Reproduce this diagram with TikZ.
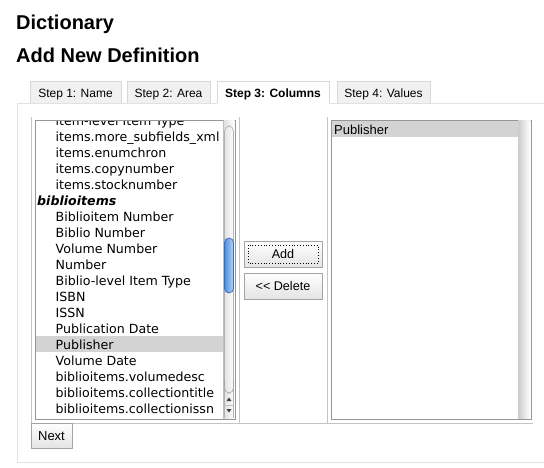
\documentclass[tikz,border=0pt]{standalone}
\usepackage{fontspec}
\setmainfont{Liberation Sans}
\newfontfamily\listfont{DejaVu Sans}
\definecolor{tabfill}{HTML}{F1F1F1}
\definecolor{tabline}{HTML}{D8D8D8}
\definecolor{panelline}{HTML}{E2E2E2}
\definecolor{cellline}{HTML}{C4C4C4}
\definecolor{boxline}{HTML}{969696}
\definecolor{selfill}{HTML}{D3D3D3}
\definecolor{btnline}{HTML}{A4A4A4}
\definecolor{btnbot}{HTML}{E4E4E4}
\definecolor{thumbdark}{HTML}{4F8EDB}
\definecolor{thumblight}{HTML}{B5D6F7}
\definecolor{thumbline}{HTML}{3A6DB8}
\begin{document}
\begin{tikzpicture}[x=1pt,y=-1pt,
  title/.style={anchor=base west,inner sep=0pt,font=\bfseries\fontsize{20}{24}\selectfont},
  tabbox/.style={fill=tabfill,draw=tabline,line width=0.8pt},
  tabtext/.style={anchor=base,inner sep=0pt,font=\fontsize{12}{14}\selectfont},
  panel/.style={draw=panelline,line width=1pt},
  cell/.style={draw=cellline,line width=1pt},
  listbox/.style={draw=boxline,line width=1pt,fill=white},
  item/.style={anchor=base west,inner sep=0pt,font=\listfont\fontsize{12.6}{15}\selectfont},
  group/.style={anchor=base west,inner sep=0pt,font=\listfont\bfseries\itshape\fontsize{12.6}{15}\selectfont},
  btn/.style={draw=btnline,line width=0.8pt,top color=white,bottom color=btnbot},
  btntext/.style={inner sep=0pt,font=\fontsize{12.6}{15}\selectfont}]
\useasboundingbox (0,0) rectangle (544,467);
\fill[white] (0,0) rectangle (544,467);
% titles
\node[title] (t1) at (16,29) {Dictionary};
\node[title] (t2) at (16,62) {Add New Definition};
% tabs
\path[tabbox] (30,81) rectangle (121,103);
\path[tabbox] (127,81) rectangle (210,103);
\path[tabbox] (337,81) rectangle (430,103);
\fill[white] (217,81) rectangle (329,104);
\draw[tabline,line width=0.8pt] (217,103) -- (217,81) -- (329,81) -- (329,103);
\node[tabtext] (tab1) at (75.5,97) {Step 1: Name};
\node[tabtext] (tab2) at (168.5,97) {Step 2: Area};
\node[tabtext,font=\bfseries\fontsize{12}{14}\selectfont] (tab3) at (273,97) {Step 3: Columns};
\node[tabtext] (tab4) at (383.5,97) {Step 4: Values};
% panel
\draw[panel] (544,103) -- (329,103);
\draw[panel] (217,103) -- (17,103) -- (17,462) -- (544,462);
% table cells
\draw[cell] (31,117) -- (31,423) -- (533,423);
\draw[cell] (239,117) -- (239,423);
\draw[cell] (327,117) -- (327,423);
% left list
\draw[listbox] (35,120) rectangle (235,419);
\fill[selfill] (36,336) rectangle (223,352);
\begin{scope}
\clip (36,121) rectangle (223,418);
\foreach \yy/\txt [count=\i] in {125/item-level Item Type,141/items.more\_subfields\_xml,157/items.enumchron,173/items.copynumber,189/items.stocknumber,221/Biblioitem Number,237/Biblio Number,253/Volume Number,269/Number,285/Biblio-level Item Type,301/ISBN,317/ISSN,333/Publication Date,349/Publisher,365/Volume Date,381/biblioitems.volumedesc,397/biblioitems.collectiontitle,413/biblioitems.collectionissn}
  \node[item] (it\i) at (55.5,\yy) {\txt};
\node[group] (grp) at (37,205) {biblioitems};
\end{scope}
% left scrollbar
\shade[left color=black!12,right color=white] (223.5,120.5) rectangle (234.5,418.5);
\draw[black!25,line width=0.5pt] (223.5,120.5) -- (223.5,418.5);
\draw[black!30,line width=0.6pt,rounded corners=5pt] (224.5,418) -- (224.5,126) -- (233.5,126) -- (233.5,418);
\draw[black!35,line width=0.6pt,rounded corners=5pt] (224.5,380) -- (224.5,393) -- (233.5,393) -- (233.5,380);
\shade[left color=thumbdark,right color=thumblight,draw=thumbline,line width=0.7pt,rounded corners=4.5pt] (224.5,238) rectangle (233.5,293);
\fill[black!75] (226.5,401) -- (231.5,401) -- (229,397.5) -- cycle;
\fill[black!75] (226.5,409) -- (231.5,409) -- (229,412.5) -- cycle;
\draw[black!25,line width=0.5pt] (224,405) -- (234,405);
% buttons
\path[btn] (244,241) rectangle (322,267);
\draw[black,dotted,line width=0.8pt] (248,245) rectangle (318,263);
\node[btntext] (add) at (283,254) {Add};
\path[btn] (244,273) rectangle (322,299);
\node[btntext] (del) at (283,286) {<\kern0pt<\kern0pt{} Delete};
% right list
\draw[listbox] (331,120) rectangle (531,419);
\fill[selfill] (332,121) rectangle (518,137);
\shade[left color=black!20,right color=white] (518,120.5) rectangle (530.5,418.5);
\node[anchor=base west,inner sep=0pt,font=\fontsize{13}{15}\selectfont] (sel) at (334,134) {Publisher};
% next button
\path[btn] (31,423) rectangle (72,448);
\node[btntext,font=\fontsize{13}{15}\selectfont] (next) at (51.5,436) {Next};
\end{tikzpicture}
\end{document}
